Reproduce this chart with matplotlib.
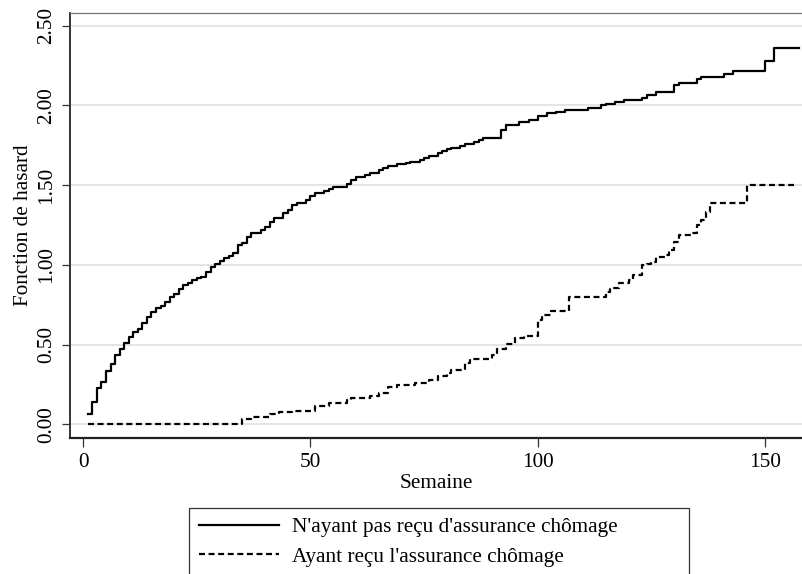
import matplotlib
matplotlib.use("Agg")
import matplotlib.pyplot as plt
from matplotlib.ticker import FormatStrFormatter

# cumulative hazard, group without unemployment insurance (step starts at each week)
weeks_no_ui = [1, 2, 3, 4, 5, 6, 7, 8, 9, 10, 11, 12, 13, 14, 15, 16, 17, 18, 19, 20,
               21, 22, 23, 24, 25, 26, 27, 28, 29, 30, 31, 32, 33, 34, 35, 36, 37, 39, 40, 41,
               42, 44, 45, 46, 47, 49, 50, 51, 53, 54, 55, 58, 59, 60, 62, 63, 65, 66, 67, 69,
               71, 72, 74, 75, 76, 78, 79, 80, 81, 83, 84, 86, 87, 88, 92, 93, 96, 98, 100, 102,
               104, 106, 111, 114, 115, 117, 119, 123, 124, 126, 130, 131, 135, 136, 141, 143, 150, 152]
hazard_no_ui = [0.063, 0.14, 0.226, 0.267, 0.336, 0.38, 0.435, 0.47, 0.51, 0.546,
                0.577, 0.60, 0.637, 0.675, 0.706, 0.728, 0.742, 0.77, 0.80, 0.82,
                0.847, 0.874, 0.885, 0.905, 0.916, 0.926, 0.957, 0.985, 1.005, 1.025,
                1.045, 1.058, 1.073, 1.125, 1.135, 1.175, 1.198, 1.219, 1.24, 1.271,
                1.292, 1.324, 1.344, 1.376, 1.388, 1.407, 1.435, 1.452, 1.462, 1.475,
                1.49, 1.51, 1.535, 1.55, 1.564, 1.578, 1.595, 1.61, 1.62, 1.633,
                1.64, 1.647, 1.658, 1.669, 1.68, 1.70, 1.717, 1.725, 1.735, 1.746,
                1.756, 1.773, 1.784, 1.798, 1.846, 1.878, 1.898, 1.909, 1.934, 1.951,
                1.961, 1.972, 1.982, 2.003, 2.010, 2.024, 2.035, 2.049, 2.066, 2.087,
                2.129, 2.143, 2.168, 2.177, 2.195, 2.218, 2.281, 2.363]
last_week_no_ui = 157.5

# cumulative hazard, group with unemployment insurance
weeks_ui = [1, 35, 37, 41, 43, 46, 51, 54, 58, 59, 63, 65, 67, 69, 73, 76, 78, 80, 81, 84,
            85, 90, 91, 93, 95, 97, 100, 101, 103, 107, 115, 116, 118, 120, 121, 123, 124, 125, 126, 128,
            129, 130, 131, 134, 135, 136, 137, 138, 146]
hazard_ui = [0.0, 0.031, 0.044, 0.065, 0.077, 0.083, 0.115, 0.132, 0.150, 0.163,
             0.18, 0.194, 0.236, 0.247, 0.261, 0.278, 0.303, 0.32, 0.34, 0.383,
             0.41, 0.435, 0.472, 0.502, 0.54, 0.554, 0.654, 0.686, 0.711, 0.80,
             0.832, 0.853, 0.885, 0.905, 0.935, 1.0, 1.004, 1.02, 1.052, 1.06,
             1.094, 1.146, 1.188, 1.20, 1.25, 1.282, 1.334, 1.386, 1.50]
last_week_ui = 156.5

x_ticks = [0, 50, 100, 150]
y_ticks = [0.0, 0.5, 1.0, 1.5, 2.0, 2.5]
series_labels = ["N'ayant pas reçu d'assurance chômage", "Ayant reçu l'assurance chômage"]

plt.rcParams.update({
    "font.family": ["Liberation Serif", "DejaVu Serif"],
    "font.size": 15.3,
    "lines.scale_dashes": False,
})

W, H = 803, 574
fig = plt.figure(figsize=(W / 100, H / 100), dpi=100)
ax = fig.add_axes([70 / W, 1 - 438 / H, (W - 70) / W, (438 - 13) / H])

ax.step(weeks_no_ui + [last_week_no_ui], hazard_no_ui + [hazard_no_ui[-1]],
        where="post", color="black", lw=1.6, label=series_labels[0])
ax.step(weeks_ui + [last_week_ui], hazard_ui + [hazard_ui[-1]],
        where="post", color="black", lw=1.6, dashes=(4.3, 2.6), label=series_labels[1])

ax.set_xlim(-2.93, 158.4)
ax.set_ylim(-0.086, 2.58)
ax.set_xticks(x_ticks)
ax.set_yticks(y_ticks)
ax.yaxis.set_major_formatter(FormatStrFormatter("%.2f"))
ax.grid(axis="y", color="#dcdcdc", lw=1.1)
ax.set_axisbelow(True)

for lbl in ax.get_yticklabels():
    lbl.set_rotation(90)
    lbl.set_va("center")
ax.tick_params(axis="y", length=6, width=0.9, color="#333333", pad=4)
ax.tick_params(axis="x", length=6.5, width=0.9, color="#333333", pad=4)

ax.spines["right"].set_visible(False)
ax.spines["top"].set_color("#777777")
ax.spines["top"].set_linewidth(0.9)
ax.spines["left"].set_color("#333333")
ax.spines["left"].set_linewidth(1.4)
ax.spines["bottom"].set_color("#222222")
ax.spines["bottom"].set_linewidth(1.6)

ax.set_xlabel("Semaine", labelpad=2)
ax.set_ylabel("Fonction de hasard", labelpad=3)

handles, labels = ax.get_legend_handles_labels()
leg = fig.legend(handles, labels, loc="upper left",
                 bbox_to_anchor=(189 / W, 1 - 508 / H - 0.1, (689 - 189) / W, 0.1),
                 mode="expand", borderaxespad=0, fancybox=False, frameon=True,
                 handlelength=3.8, handletextpad=0.6, labelspacing=0.45,
                 borderpad=0.45, fontsize=15.3)
leg.get_frame().set_edgecolor("black")
leg.get_frame().set_linewidth(0.9)

fig.savefig("out.png", dpi=100)
